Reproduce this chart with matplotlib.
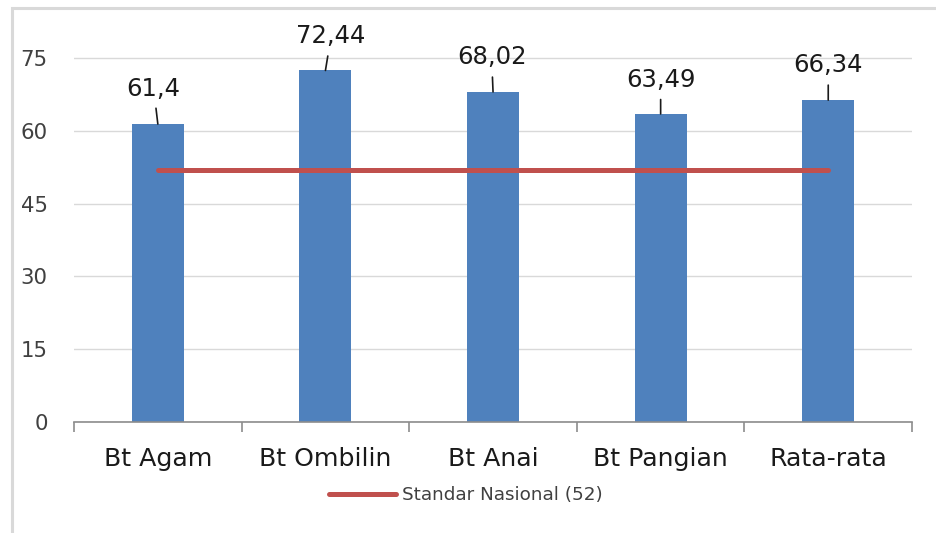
import matplotlib
matplotlib.use("Agg")
import matplotlib.pyplot as plt
from matplotlib.patches import Rectangle

plt.rcParams['font.family'] = ['DejaVu Sans']

# chart data
categories = ["Bt Agam", "Bt Ombilin", "Bt Anai", "Bt Pangian", "Rata-rata"]
values = [61.4, 72.44, 68.02, 63.49, 66.34]
value_labels = ["61,4", "72,44", "68,02", "63,49", "66,34"]
standard = 52
standard_label = "Standar Nasional (52)"
y_ticks = [0, 15, 30, 45, 60, 75]

# label offsets (points) relative to bar tops
label_offsets = [(-3, 25.5), (4, 24.5), (-1, 24.8), (0, 24.5), (0, 24.9)]

bar_color = "#4F81BD"
line_color = "#C0504D"

fig = plt.figure(figsize=(9.36, 5.33), dpi=100)
ax = fig.add_axes([0.0791, 0.2083, 0.8953, 0.7283])

x = list(range(len(categories)))
ax.bar(x, values, width=0.31, color=bar_color, zorder=2)
ax.plot(x, [standard] * len(x), color=line_color, lw=3.6, solid_capstyle="round",
        zorder=3, label=standard_label)

# data labels with leader lines
for xi, v, lab, off in zip(x, values, value_labels, label_offsets):
    ax.annotate(lab, xy=(xi, v), xytext=off, textcoords="offset points",
                ha="center", va="center", fontsize=17.5, color="#1a1a1a",
                arrowprops=dict(arrowstyle="-", color="#1a1a1a", lw=1.2,
                                shrinkA=3.5, shrinkB=0))

ax.set_xlim(-0.5, len(categories) - 0.5)
ax.set_ylim(0, 80)
ax.set_yticks(y_ticks)
ax.set_yticklabels([str(t) for t in y_ticks], fontsize=15.3, color="#404040")
ax.set_xticks(x)
ax.set_xticklabels(categories, fontsize=18.2, color="#1a1a1a")
ax.set_xticks([i - 0.5 for i in range(len(categories) + 1)], minor=True)
ax.tick_params(axis="x", which="major", length=0, pad=18)
ax.tick_params(axis="x", which="minor", length=7, width=1.2, color="#8c8c8c")
ax.tick_params(axis="y", length=0, pad=19)

ax.grid(axis="y", color="#d9d9d9", lw=1, zorder=0)
for s in ["top", "right", "left"]:
    ax.spines[s].set_visible(False)
ax.spines["bottom"].set_color("#8c8c8c")
ax.spines["bottom"].set_linewidth(1.2)
ax.spines["bottom"].set_zorder(4)

fig.legend(loc="center", bbox_to_anchor=(466 / 936, 1 - 495 / 533), frameon=False,
           fontsize=13.2, handlelength=3.66, handletextpad=0.3, labelcolor="#404040")

# outer chart border (left and top visible)
fig.add_artist(Rectangle((12 / 936, -0.1), 1.2, 1.1 - 8 / 533, transform=fig.transFigure,
                         fill=False, edgecolor="#d9d9d9", lw=2.2))

fig.savefig("out.png", dpi=100)
